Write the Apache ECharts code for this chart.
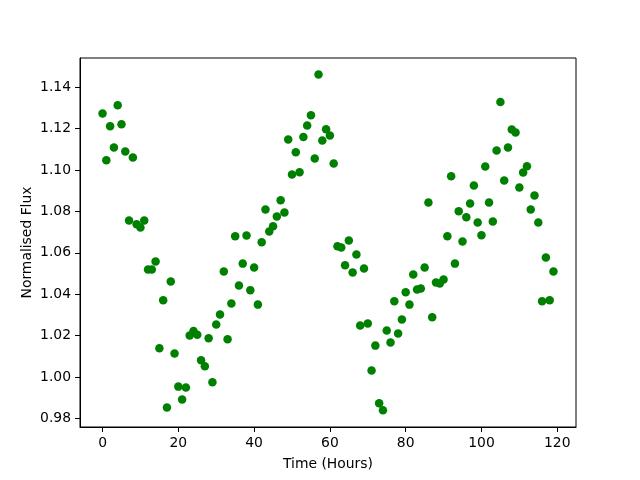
<!DOCTYPE html>
<html>
<head>
<meta charset="utf-8">
<script src="https://cdn.jsdelivr.net/npm/echarts@6/dist/echarts.min.js"></script>
<style>html,body{margin:0;padding:0;background:#fff}#c{width:640px;height:480px}</style>
</head>
<body>
<div id="c"></div>
<script>
const timeHours = [0,1,2,3,4,5,6,7,8,9,10,11,12,13,14,15,16,17,18,19,20,21,22,23,24,25,26,27,28,29,30,31,32,33,34,35,36,37,38,39,40,41,42,43,44,45,46,47,48,49,50,51,52,53,54,55,56,57,58,59,60,61,62,63,64,65,66,67,68,69,70,71,72,73,74,75,76,77,78,79,80,81,82,83,84,85,86,87,88,89,90,91,92,93,94,95,96,97,98,99,100,101,102,103,104,105,106,107,108,109,110,111,112,113,114,115,116,117,118,119];
const flux = [1.1273,1.1047,1.1212,1.1109,1.1313,1.1221,1.1089,1.0756,1.1060,1.0738,
1.0722,1.0756,1.0520,1.0520,1.0558,1.0139,1.0371,0.9853,1.0462,1.0114,
0.9954,0.9892,0.9950,1.0201,1.0223,1.0204,1.0081,1.0052,1.0188,0.9975,
1.0254,1.0302,1.0510,1.0183,1.0355,1.0680,1.0442,1.0548,1.0684,1.0420,
1.0529,1.0350,1.0651,1.0809,1.0703,1.0729,1.0775,1.0854,1.0795,1.1147,
1.0978,1.1086,1.0989,1.1159,1.1215,1.1265,1.1056,1.1461,1.1143,1.1197,
1.1167,1.1031,1.0632,1.0626,1.0540,1.0660,1.0505,1.0592,1.0249,1.0524,
1.0259,1.0032,1.0152,0.9874,0.9840,1.0225,1.0167,1.0366,1.0210,1.0278,
1.0410,1.0350,1.0495,1.0423,1.0428,1.0529,1.0843,1.0289,1.0457,1.0452,
1.0471,1.0680,1.0970,1.0548,1.0801,1.0655,1.0772,1.0838,1.0925,1.0747,
1.0685,1.1017,1.0843,1.0751,1.1094,1.1328,1.0949,1.1109,1.1196,1.1181,
1.0916,1.0988,1.1018,1.0809,1.0877,1.0747,1.0366,1.0577,1.0371,1.0510];
const xTicks = [0,20,40,60,80,100,120];
const yTicks = [0.98,1.00,1.02,1.04,1.06,1.08,1.10,1.12,1.14];
const xLabel = 'Time (Hours)';
const yLabel = 'Normalised Flux';

const points = timeHours.map((t,i)=>[t,flux[i]]);
const font = 'DejaVu Sans';
const chart = echarts.init(document.getElementById('c'), null, {renderer:'canvas'});
chart.setOption({
  animation:false,
  backgroundColor:'#fff',
  grid:{left:80,right:64,top:58,bottom:53,show:true,borderColor:'#000',borderWidth:1,backgroundColor:'transparent'},
  xAxis:{
    type:'value', min:-5.95, max:124.95,
    name:xLabel, nameLocation:'middle', nameGap:30, nameMoveOverlap:false,
    nameTextStyle:{fontFamily:font,fontSize:13.9,color:'#000'},
    axisLine:{show:true,onZero:false,lineStyle:{color:'#000',width:1}},
    axisTick:{show:true,length:5,inside:false,customValues:xTicks,lineStyle:{color:'#000'}},
    axisLabel:{margin:9,fontFamily:font,fontSize:13.9,color:'#000',customValues:xTicks,formatter:v=>String(v)},
    splitLine:{show:false}
  },
  yAxis:{
    type:'value', min:0.9759, max:1.1541,
    name:yLabel, nameLocation:'middle', nameGap:46, nameMoveOverlap:false,
    nameTextStyle:{fontFamily:font,fontSize:13.9,color:'#000'},
    axisLine:{show:true,onZero:false,lineStyle:{color:'#000',width:1}},
    axisTick:{show:true,length:5,inside:false,customValues:yTicks,lineStyle:{color:'#000'}},
    axisLabel:{margin:9,fontFamily:font,fontSize:13.9,color:'#000',customValues:yTicks,formatter:v=>v.toFixed(2)},
    splitLine:{show:false}
  },
  series:[{
    type:'scatter', data:points, symbol:'circle', symbolSize:8.5,
    itemStyle:{color:'#008000',opacity:1}
  }]
});
</script>
</body>
</html>
